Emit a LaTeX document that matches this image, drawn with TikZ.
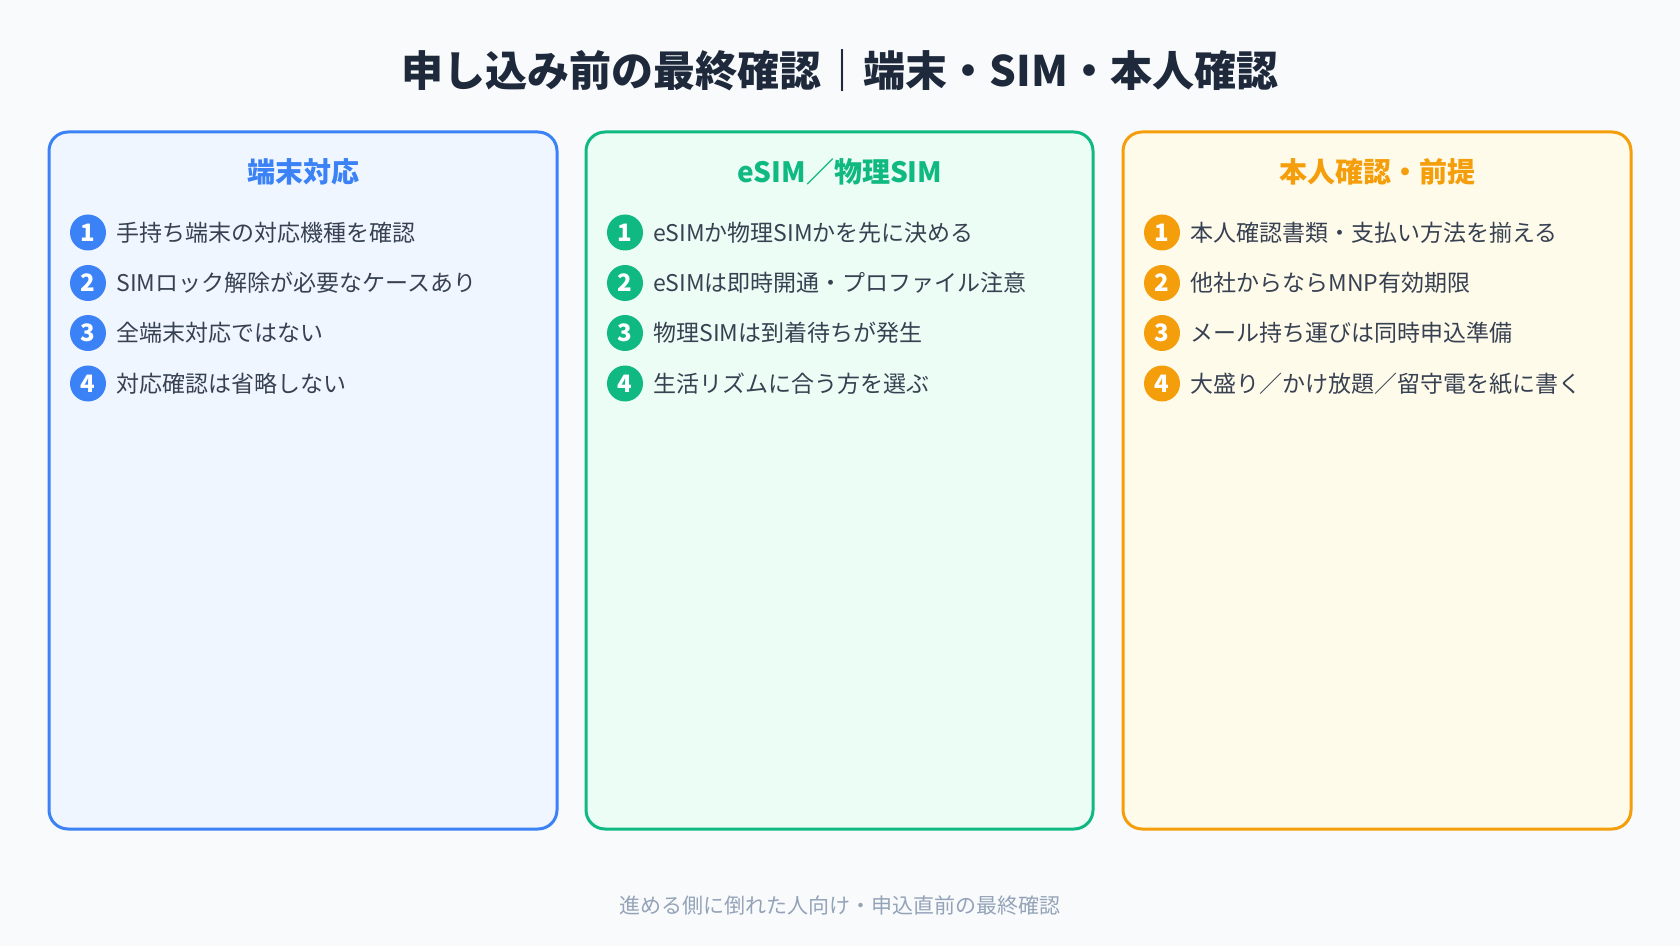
\documentclass[tikz,border=0pt]{standalone}
\usepackage{fontspec}
\setmainfont{Noto Sans CJK JP}
\definecolor{bgc}{HTML}{F8FAFC}
\definecolor{titlec}{HTML}{1E293B}
\definecolor{textc}{HTML}{374151}
\definecolor{footc}{HTML}{94A3B8}
\definecolor{blueA}{HTML}{3B82F6}
\definecolor{blueF}{HTML}{EFF6FF}
\definecolor{greenA}{HTML}{10B981}
\definecolor{greenF}{HTML}{ECFDF5}
\definecolor{orangeA}{HTML}{F59E0B}
\definecolor{orangeF}{HTML}{FFFBEB}
\tikzset{
  panel/.style={draw=#1, line width=1.5pt, rounded corners=9.5pt},
  head/.style={text=#1, font=\fontsize{14}{16}\selectfont\bfseries},
  num/.style={circle, fill=#1, minimum size=18pt, inner sep=0pt, text=white, font=\fontsize{12}{12}\selectfont\bfseries},
  item/.style={anchor=west, text=textc, font=\fontsize{11.5}{13}\selectfont, inner sep=0pt}
}
\begin{document}
\begin{tikzpicture}[x=0.5pt, y=-0.5pt]
\fill[bgc] (0,0) rectangle (1680,946);
\useasboundingbox (0,0) rectangle (1680,946);

\node[text=titlec, font=\fontsize{21}{24}\selectfont\bfseries] (title) at (840,71) {申し込み前の最終確認｜端末・SIM・本人確認};

% panels
\fill[blueF, rounded corners=9.5pt] (49,132) rectangle (557,829);
\draw[panel=blueA] (49,132) rectangle (557,829);
\fill[greenF, rounded corners=9.5pt] (586,132) rectangle (1093,829);
\draw[panel=greenA] (586,132) rectangle (1093,829);
\fill[orangeF, rounded corners=9.5pt] (1123,132) rectangle (1631,829);
\draw[panel=orangeA] (1123,132) rectangle (1631,829);

\node[head=blueA] (headA) at (303,172) {端末対応};
\node[head=greenA] (headB) at (840,172) {eSIM／物理SIM};
\node[head=orangeA] (headC) at (1377,172) {本人確認・前提};

% items
\foreach \n/\y/\t in {1/232.5/手持ち端末の対応機種を確認, 2/283/SIMロック解除が必要なケースあり, 3/333/全端末対応ではない, 4/383.5/対応確認は省略しない}{
  \node[num=blueA] (numA\n) at (88,\y) {\n};
  \node[item] (itemA\n) at (116,\y) {\t};
}
\foreach \n/\y/\t in {1/232.5/eSIMか物理SIMかを先に決める, 2/283/eSIMは即時開通・プロファイル注意, 3/333/物理SIMは到着待ちが発生, 4/383.5/生活リズムに合う方を選ぶ}{
  \node[num=greenA] (numB\n) at (625,\y) {\n};
  \node[item] (itemB\n) at (653,\y) {\t};
}
\foreach \n/\y/\t in {1/232.5/本人確認書類・支払い方法を揃える, 2/283/他社からならMNP有効期限, 3/333/メール持ち運びは同時申込準備, 4/383.5/大盛り／かけ放題／留守電を紙に書く}{
  \node[num=orangeA] (numC\n) at (1162,\y) {\n};
  \node[item] (itemC\n) at (1190,\y) {\t};
}

\node[text=footc, font=\fontsize{10.5}{12}\selectfont] (foot) at (840,906) {進める側に倒れた人向け・申込直前の最終確認};
\end{tikzpicture}
\end{document}
